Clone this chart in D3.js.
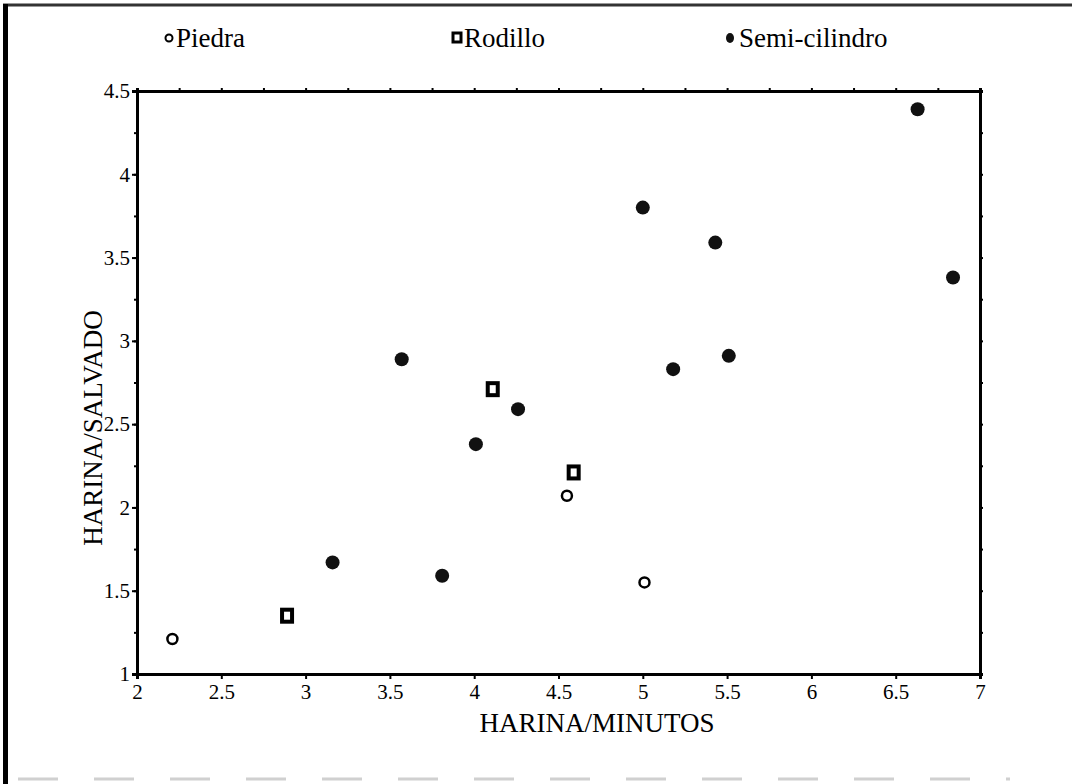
<!DOCTYPE html>
<html>
<head>
<meta charset="utf-8">
<script src="https://cdn.jsdelivr.net/npm/d3@7"></script>
<style>
  body { margin: 0; background: #fff; }
  svg { display: block; font-family: "Liberation Serif", "Times New Roman", serif; }
</style>
</head>
<body>
<div id="vis"></div>
<script>
// datos
const seriesNames = ["Piedra", "Rodillo", "Semi-cilindro"];

const piedraX = [2.21, 4.55, 5.01];
const piedraY = [1.21, 2.07, 1.55];

const rodilloX = [2.89, 4.11, 4.59];
const rodilloY = [1.35, 2.71, 2.21];

const semiX = [3.16, 3.81, 3.57, 4.01, 4.26, 5.00, 5.43, 5.18, 5.51, 6.63, 6.84];
const semiY = [1.67, 1.59, 2.89, 2.38, 2.59, 3.80, 3.59, 2.83, 2.91, 4.39, 3.38];

const xTicks = [2, 2.5, 3, 3.5, 4, 4.5, 5, 5.5, 6, 6.5, 7];
const yTicks = [1, 1.5, 2, 2.5, 3, 3.5, 4, 4.5];

const xTitle = "HARINA/MINUTOS";
const yTitle = "HARINA/SALVADO";

// tamaño
const W = 1072, H = 784;
const margin = { top: 91, right: 92, bottom: 110, left: 137 };
const width = W - margin.left - margin.right;
const height = H - margin.top - margin.bottom;

const svg = d3.select("#vis").append("svg")
    .attr("width", W)
    .attr("height", H);

// marco exterior (escaneado)
svg.append("line").attr("x1", 3).attr("x2", W).attr("y1", 5).attr("y2", 5)
    .attr("stroke", "#333").attr("stroke-width", 3);
svg.append("line").attr("x1", 5.5).attr("x2", 5.5).attr("y1", 4).attr("y2", H)
    .attr("stroke", "#000").attr("stroke-width", 5);
svg.append("line").attr("x1", 18).attr("x2", 1010).attr("y1", 779).attr("y2", 779)
    .attr("stroke", "#d0d0d0").attr("stroke-width", 3).attr("stroke-dasharray", "40 36");

const g = svg.append("g").attr("transform", `translate(${margin.left},${margin.top})`);

const x = d3.scaleLinear().domain([2, 7]).range([0, width]);
const y = d3.scaleLinear().domain([1, 4.5]).range([height, 0]);

const minorX = d3.range(2, 7.001, 0.25);
const minorY = d3.range(1, 4.501, 0.25);

// ejes
const axBottom = g.append("g").attr("transform", `translate(0,${height})`)
    .call(d3.axisBottom(x).tickValues(xTicks).tickFormat(d3.format("")).tickSize(5).tickPadding(5));
const axLeft = g.append("g")
    .call(d3.axisLeft(y).tickValues(yTicks).tickFormat(d3.format("")).tickSize(5).tickPadding(2));
const axTop = g.append("g")
    .call(d3.axisTop(x).tickValues(minorX).tickFormat("").tickSize(3));
const axRight = g.append("g").attr("transform", `translate(${width},0)`)
    .call(d3.axisRight(y).tickValues(minorY).tickFormat("").tickSize(3));
const axLeftMinor = g.append("g")
    .call(d3.axisLeft(y).tickValues(minorY).tickFormat("").tickSize(3));

[axBottom, axLeft, axTop, axRight, axLeftMinor].forEach(a => {
    a.select(".domain").attr("stroke", "#000").attr("stroke-width", 3);
    a.selectAll(".tick line").attr("stroke", "#000").attr("stroke-width", 2);
    a.selectAll("text").attr("font-family", "Liberation Serif").attr("font-size", 21).attr("fill", "#000");
});

// títulos
g.append("text")
    .attr("x", 597 - margin.left).attr("y", height + 58)
    .attr("text-anchor", "middle").attr("font-size", 27)
    .text(xTitle);
g.append("text")
    .attr("transform", `translate(${-35},${428 - margin.top}) rotate(-90)`)
    .attr("text-anchor", "middle").attr("font-size", 27)
    .text(yTitle);

// puntos
const toPts = (xs, ys) => xs.map((v, i) => ({ x: v, y: ys[i] }));

g.selectAll("circle.piedra")
    .data(toPts(piedraX, piedraY))
    .enter().append("circle")
    .attr("class", "piedra")
    .attr("cx", d => x(d.x)).attr("cy", d => y(d.y))
    .attr("r", 5)
    .attr("fill", "#fff").attr("stroke", "#000").attr("stroke-width", 2.5);

g.selectAll("rect.rodillo")
    .data(toPts(rodilloX, rodilloY))
    .enter().append("rect")
    .attr("class", "rodillo")
    .attr("x", d => x(d.x) - 5).attr("y", d => y(d.y) - 6)
    .attr("width", 10).attr("height", 12)
    .attr("fill", "#fff").attr("stroke", "#000").attr("stroke-width", 4);

g.selectAll("circle.semi")
    .data(toPts(semiX, semiY))
    .enter().append("circle")
    .attr("class", "semi")
    .attr("cx", d => x(d.x)).attr("cy", d => y(d.y))
    .attr("r", 7)
    .attr("fill", "#111");

// leyenda
const legend = svg.append("g").attr("font-size", 27);
const legendX = [169, 457, 730];
const legendY = 38;

legend.append("circle").attr("cx", legendX[0]).attr("cy", legendY)
    .attr("r", 3.5).attr("fill", "#fff").attr("stroke", "#000").attr("stroke-width", 2);
legend.append("rect").attr("x", legendX[1] - 4).attr("y", legendY - 5)
    .attr("width", 8).attr("height", 9)
    .attr("fill", "#fff").attr("stroke", "#000").attr("stroke-width", 3);
legend.append("ellipse").attr("cx", legendX[2]).attr("cy", legendY)
    .attr("rx", 4).attr("ry", 5).attr("fill", "#111");

seriesNames.forEach((name, i) => {
    legend.append("text")
        .attr("x", legendX[i] + (i === 2 ? 9 : 7))
        .attr("y", legendY + 9)
        .text(name);
});
</script>
</body>
</html>
